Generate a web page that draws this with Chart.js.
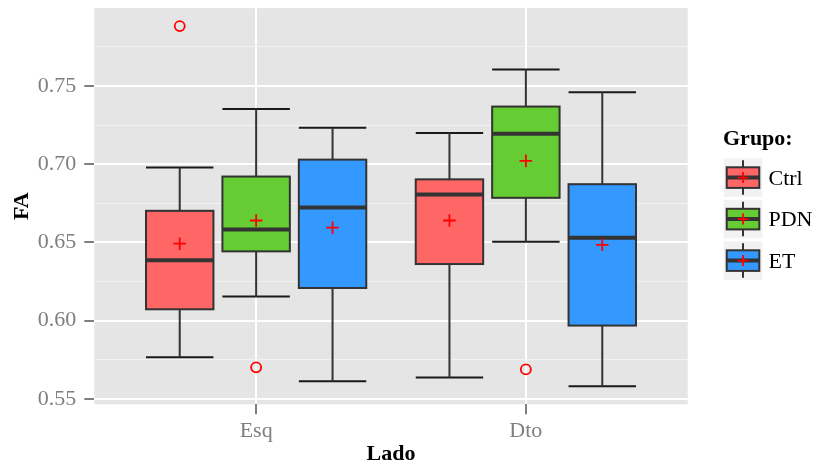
<!DOCTYPE html>
<html>
<head>
<meta charset="utf-8">
<script src="https://cdn.jsdelivr.net/npm/chart.js@4.4.0/dist/chart.umd.min.js"></script>
<style>
  html, body { margin: 0; padding: 0; background: #fff; }
  #wrap { width: 813px; height: 469px; }
</style>
</head>
<body>
<div id="wrap"><canvas id="chart" width="813" height="469"></canvas></div>
<script>
const sides = ['Esq', 'Dto'];
const groups = ['Ctrl', 'PDN', 'ET'];
const groupColors = ['#FF6666', '#66CC33', '#3399FF'];

// each row is one group, columns follow `sides`
const whiskerLow = [[0.5766, 0.5638], [0.6154, 0.6504], [0.5613, 0.5581]];
const q1 = [[0.6073, 0.6362], [0.6443, 0.6785], [0.6209, 0.5969]];
const median = [[0.6387, 0.6806], [0.6583, 0.7194], [0.6723, 0.6530]];
const q3 = [[0.6702, 0.6903], [0.6921, 0.7368], [0.7029, 0.6872]];
const whiskerHigh = [[0.6978, 0.7199], [0.7352, 0.7604], [0.7233, 0.7460]];
const means = [[0.6492, 0.6640], [0.6640, 0.7021], [0.6594, 0.6485]];
const outliers = [[[0.7882], []], [[0.5702], [0.5689]], [[], []]];

const majorTicks = [0.55, 0.60, 0.65, 0.70, 0.75];
const minorTicks = [0.575, 0.625, 0.675, 0.725, 0.775];

const DODGE = 0.2833;
const BOX_W = 0.25;
const SERIF = '"Liberation Serif", "Times New Roman", serif';
const TXT_GREY = '#7F7F7F';

const xPos = (gi, si) => si + 1 + (gi - 1) * DODGE;

const meanPoints = [];
const outlierPoints = [];
groups.forEach((g, gi) => sides.forEach((s, si) => {
  meanPoints.push({ x: xPos(gi, si), y: means[gi][si] });
  outliers[gi][si].forEach(v => outlierPoints.push({ x: xPos(gi, si), y: v }));
}));

const isMajor = v => majorTicks.some(m => Math.abs(m - v) < 1e-6);

function drawKeyBox(ctx, cx, top, bottom, wTop, wBot, left, right, med, fill) {
  ctx.strokeStyle = '#333333';
  ctx.lineWidth = 2;
  ctx.beginPath();
  ctx.moveTo(cx, wTop); ctx.lineTo(cx, top);
  ctx.moveTo(cx, bottom); ctx.lineTo(cx, wBot);
  ctx.stroke();
  ctx.fillStyle = fill;
  ctx.fillRect(left, top, right - left, bottom - top);
  ctx.strokeRect(left, top, right - left, bottom - top);
  ctx.lineWidth = 4;
  ctx.beginPath();
  ctx.moveTo(left, med); ctx.lineTo(right, med);
  ctx.stroke();
}

const boxPlugin = {
  id: 'boxes',
  beforeDraw(chart) {
    const { ctx, chartArea: a } = chart;
    ctx.save();
    ctx.fillStyle = '#E5E5E5';
    ctx.fillRect(a.left, a.top, a.right - a.left, a.bottom - a.top);
    ctx.restore();
  },
  beforeDatasetsDraw(chart) {
    const { ctx, scales: { x, y } } = chart;
    ctx.save();
    groups.forEach((g, gi) => sides.forEach((s, si) => {
      const c = xPos(gi, si);
      const cx = x.getPixelForValue(c);
      const l = x.getPixelForValue(c - BOX_W / 2);
      const r = x.getPixelForValue(c + BOX_W / 2);
      const yLo = y.getPixelForValue(whiskerLow[gi][si]);
      const yHi = y.getPixelForValue(whiskerHigh[gi][si]);
      // error bar caps
      ctx.strokeStyle = '#1A1A1A';
      ctx.lineWidth = 2;
      ctx.beginPath();
      ctx.moveTo(l, yLo); ctx.lineTo(r, yLo);
      ctx.moveTo(l, yHi); ctx.lineTo(r, yHi);
      ctx.stroke();
      drawKeyBox(ctx, cx,
        y.getPixelForValue(q3[gi][si]), y.getPixelForValue(q1[gi][si]),
        yHi, yLo, l, r, y.getPixelForValue(median[gi][si]), groupColors[gi]);
    }));
    ctx.restore();
  },
  afterDraw(chart) {
    const { ctx } = chart;
    ctx.save();
    ctx.fillStyle = '#000';
    ctx.textBaseline = 'middle';
    ctx.textAlign = 'left';
    ctx.font = 'bold 22px ' + SERIF;
    ctx.fillText('Grupo:', 723, 139.6);
    const keyLeft = 723.7, keySize = 38.6, step = 41.5;
    groups.forEach((g, gi) => {
      const top = 158.3 + gi * step;
      const cx = keyLeft + keySize / 2, cy = top + keySize / 2;
      ctx.fillStyle = '#F2F2F2';
      ctx.fillRect(keyLeft, top, keySize, keySize);
      drawKeyBox(ctx, cx, cy - 10.3, cy + 10.3, top + 2, top + 36.5,
        keyLeft + 3, keyLeft + keySize - 3, cy, groupColors[gi]);
      ctx.strokeStyle = '#FF0000';
      ctx.lineWidth = 1.8;
      ctx.beginPath();
      ctx.moveTo(cx - 5.5, cy); ctx.lineTo(cx + 5.5, cy);
      ctx.moveTo(cx, cy - 5.5); ctx.lineTo(cx, cy + 5.5);
      ctx.stroke();
      ctx.fillStyle = '#000';
      ctx.font = '22px ' + SERIF;
      ctx.fillText(g, 768.5, cy + 1.5);
    });
    ctx.restore();
  }
};

new Chart(document.getElementById('chart'), {
  type: 'scatter',
  data: {
    datasets: [
      {
        label: 'mean',
        data: meanPoints,
        pointStyle: 'cross',
        pointRadius: 6.3,
        borderColor: '#FF0000',
        borderWidth: 1.8,
      },
      {
        label: 'outlier',
        data: outlierPoints,
        pointStyle: 'circle',
        pointRadius: 5,
        borderColor: '#FF0000',
        backgroundColor: 'rgba(0,0,0,0)',
        borderWidth: 1.8,
      },
    ],
  },
  options: {
    responsive: false,
    animation: false,
    devicePixelRatio: 1,
    layout: { padding: { top: 7, right: 125.3, left: 0, bottom: 0 } },
    plugins: { legend: { display: false }, tooltip: { enabled: false } },
    scales: {
      x: {
        type: 'linear',
        min: 0.4,
        max: 2.6,
        afterBuildTicks: s => { s.ticks = sides.map((c, i) => ({ value: i + 1 })); },
        afterFit: s => { s.height = 64.7; s.paddingLeft = 0; s.paddingRight = 0; },
        border: { display: false },
        grid: { color: '#FFFFFF', lineWidth: 2, tickColor: TXT_GREY, tickLength: 10 },
        ticks: {
          padding: 4,
          color: TXT_GREY,
          font: { family: SERIF, size: 22 },
          callback: v => sides[Math.round(v) - 1],
        },
        title: {
          display: true,
          text: 'Lado',
          color: '#000',
          font: { family: SERIF, size: 22, weight: 'bold' },
          padding: { top: 0, bottom: 1 },
        },
      },
      y: {
        min: 0.5466,
        max: 0.7997,
        afterBuildTicks: s => {
          s.ticks = [...majorTicks, ...minorTicks].sort((a, b) => a - b).map(v => ({ value: v }));
        },
        afterFit: s => { s.width = 94.3; s.paddingTop = 0; s.paddingBottom = 0; },
        border: { display: false },
        grid: {
          color: c => isMajor(c.tick.value) ? '#FFFFFF' : '#F2F2F2',
          lineWidth: c => isMajor(c.tick.value) ? 2 : 1,
          tickColor: c => isMajor(c.tick.value) ? TXT_GREY : 'rgba(0,0,0,0)',
          tickLength: 10,
        },
        ticks: {
          padding: 8,
          color: TXT_GREY,
          font: { family: SERIF, size: 22 },
          callback: v => isMajor(v) ? v.toFixed(2) : '',
        },
        title: {
          display: true,
          text: 'FA',
          color: '#000',
          font: { family: SERIF, size: 22, weight: 'bold' },
          padding: { top: 9.4, bottom: 0 },
        },
      },
    },
  },
  plugins: [boxPlugin],
});
</script>
</body>
</html>
